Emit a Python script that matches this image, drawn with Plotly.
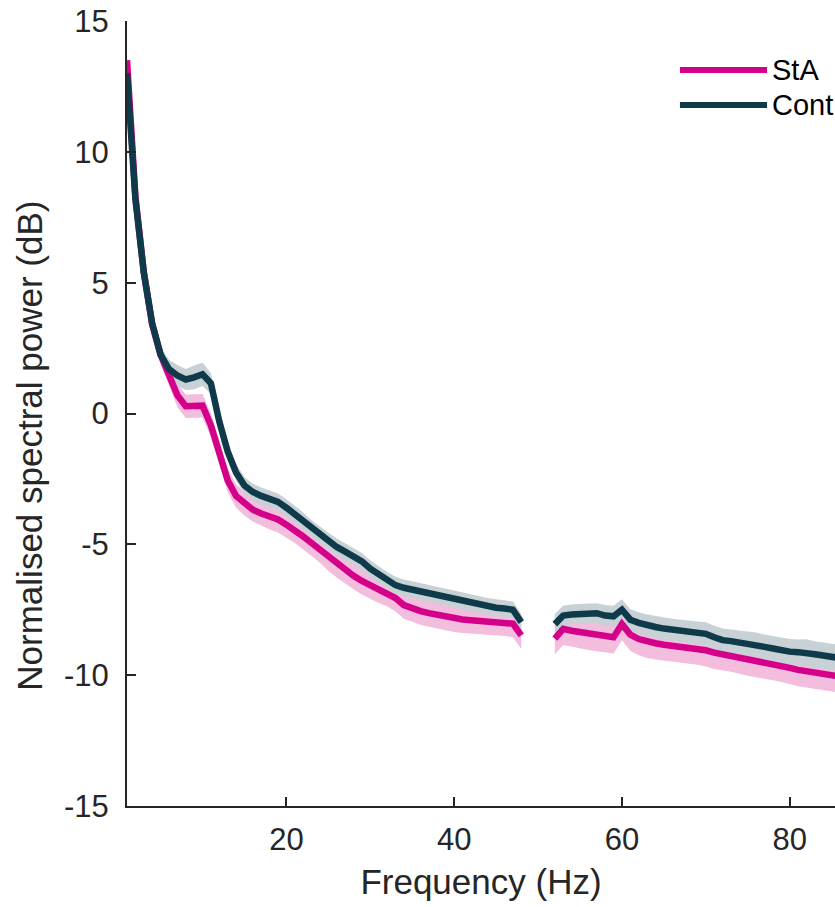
import plotly.graph_objects as go

# Frequency bins (Hz); the 49-51 Hz notch band is left out
freq_low = list(range(1, 49))
freq_high = list(range(52, 87))

# Group mean spectra (dB)
sta_low = [13.5, 8.3, 5.4, 3.4, 2.25, 1.45, 0.7, 0.28, 0.28, 0.3,
           -0.45, -1.5, -2.55, -3.15, -3.45, -3.68, -3.82, -3.95, -4.05, -4.25,
           -4.45, -4.7, -4.95, -5.2, -5.5, -5.75, -5.98, -6.2, -6.4, -6.57,
           -6.72, -6.85, -7.05, -7.32, -7.45, -7.55, -7.63, -7.7, -7.77, -7.83,
           -7.87, -7.9, -7.92, -7.94, -7.96, -7.98, -8.03, -8.48]
cont_low = [13.0, 8.2, 5.4, 3.45, 2.25, 1.7, 1.45, 1.3, 1.38, 1.5,
            1.15, -0.3, -1.45, -2.25, -2.75, -3.0, -3.15, -3.28, -3.38, -3.6,
            -3.85, -4.1, -4.4, -4.65, -4.88, -5.1, -5.28, -5.45, -5.65, -5.93,
            -6.15, -6.38, -6.56, -6.66, -6.73, -6.8, -6.88, -6.96, -7.03, -7.1,
            -7.16, -7.23, -7.3, -7.37, -7.42, -7.45, -7.5, -7.97]
sta_high = [-8.6, -8.23, -8.3, -8.36, -8.42, -8.47, -8.52, -8.55, -8.05, -8.45,
            -8.62, -8.72, -8.78, -8.84, -8.87, -8.9, -8.94, -8.98, -9.05, -9.14,
            -9.2, -9.25, -9.33, -9.4, -9.47, -9.52, -9.57, -9.64, -9.72, -9.8,
            -9.85, -9.9, -9.95, -10.0, -10.05]
cont_high = [-8.05, -7.72, -7.68, -7.65, -7.64, -7.63, -7.72, -7.75, -7.5, -7.88,
             -8.0, -8.1, -8.16, -8.22, -8.26, -8.3, -8.34, -8.38, -8.42, -8.55,
             -8.66, -8.7, -8.74, -8.78, -8.83, -8.92, -8.98, -9.05, -9.1, -9.12,
             -9.13, -9.2, -9.25, -9.3, -9.35]

# Standard error of the mean (dB)
sta_sem_low = [0.2, 0.2, 0.2, 0.25, 0.35, 0.4, 0.45, 0.45, 0.45, 0.45,
               0.45, 0.45, 0.45, 0.45, 0.45, 0.45, 0.45, 0.48, 0.5, 0.5,
               0.5, 0.5, 0.5, 0.5, 0.52, 0.52, 0.52, 0.52, 0.52, 0.52,
               0.52, 0.52, 0.52, 0.52, 0.52, 0.52, 0.52, 0.52, 0.52, 0.52,
               0.52, 0.52, 0.52, 0.52, 0.52, 0.52, 0.52, 0.52]
cont_sem_low = [0.2, 0.2, 0.2, 0.2, 0.3, 0.35, 0.4, 0.4, 0.45, 0.45,
                0.4, 0.35, 0.32, 0.32, 0.32, 0.32, 0.32, 0.32, 0.32, 0.32,
                0.32, 0.32, 0.32, 0.32, 0.32, 0.32, 0.32, 0.32, 0.32, 0.32,
                0.32, 0.32, 0.32, 0.32, 0.32, 0.32, 0.32, 0.32, 0.32, 0.32,
                0.32, 0.32, 0.32, 0.32, 0.32, 0.32, 0.32, 0.32]
sta_sem_high = [0.6, 0.62, 0.62, 0.62, 0.62, 0.62, 0.62, 0.62, 0.62, 0.62,
                0.62, 0.62, 0.62, 0.62, 0.62, 0.62, 0.62, 0.62, 0.62, 0.62,
                0.62, 0.62, 0.62, 0.62, 0.62, 0.62, 0.62, 0.62, 0.62, 0.62,
                0.62, 0.62, 0.62, 0.62, 0.62]
cont_sem_high = [0.38, 0.38, 0.38, 0.38, 0.38, 0.38, 0.4, 0.4, 0.4, 0.4,
                 0.4, 0.42, 0.42, 0.42, 0.42, 0.42, 0.42, 0.44, 0.44, 0.44,
                 0.44, 0.45, 0.45, 0.46, 0.46, 0.47, 0.47, 0.48, 0.48, 0.48,
                 0.5, 0.5, 0.5, 0.5, 0.5]

y_ticks = [-15, -10, -5, 0, 5, 10, 15]
y_tick_text = ["-15", "-10", "-5", "0", "5", "10", "15"]
x_ticks = [20, 40, 60, 80]

STA_COLOR = "#D5008A"
CONT_COLOR = "#0E3A4A"
STA_BAND = "#F3BEDE"
CONT_BAND = "#C7D1D6"
AXIS_COLOR = "#262626"
FONT = "Liberation Sans, Arial, Helvetica, sans-serif"

groups = [
    ("StA", STA_COLOR, STA_BAND,
     [(freq_low, sta_low, sta_sem_low), (freq_high, sta_high, sta_sem_high)]),
    ("Cont", CONT_COLOR, CONT_BAND,
     [(freq_low, cont_low, cont_sem_low), (freq_high, cont_high, cont_sem_high)]),
]

fig = go.Figure()

# Shaded SEM bands first, so both mean lines sit on top
for name, _, band, segments in groups:
    for f, m, s in segments:
        upper = [a + b for a, b in zip(m, s)]
        lower = [a - b for a, b in zip(m, s)]
        fig.add_trace(go.Scatter(
            x=f + f[::-1], y=upper + lower[::-1],
            fill="toself", fillcolor=band, line=dict(width=0),
            mode="lines", hoverinfo="skip", showlegend=False,
        ))

for name, color, _, segments in groups:
    for f, m, _ in segments:
        fig.add_trace(go.Scatter(
            x=f, y=m, mode="lines", name=name,
            line=dict(color=color, width=6.5),
            showlegend=False,
        ))

# Legend drawn as line samples with labels in the upper-right corner
legend_rows = [("StA", STA_COLOR, 0.9376), ("Cont", CONT_COLOR, 0.8930)]
for label, color, yp in legend_rows:
    fig.add_shape(type="line", xref="paper", yref="paper",
                  x0=0.781, x1=0.904, y0=yp, y1=yp,
                  line=dict(color=color, width=6))
    fig.add_annotation(xref="paper", yref="paper", x=0.908, y=yp,
                       text=label, showarrow=False, xanchor="left",
                       yanchor="middle",
                       font=dict(family=FONT, size=29, color="#000000"))

# Y-axis label, set slightly below the axis midpoint
fig.add_annotation(xref="paper", yref="paper", x=-0.137, y=0.459,
                   text="Normalised spectral power (dB)", textangle=-90,
                   showarrow=False, xanchor="center", yanchor="middle",
                   font=dict(family=FONT, size=35, color=AXIS_COLOR))

fig.update_layout(
    width=835, height=907,
    margin=dict(l=127, r=0, t=21, b=101),
    plot_bgcolor="white", paper_bgcolor="white",
    font=dict(family=FONT, color=AXIS_COLOR),
    showlegend=False,
    xaxis=dict(
        range=[1, 85.4], tickvals=x_ticks,
        ticks="inside", ticklen=9, tickwidth=1.5, tickcolor=AXIS_COLOR,
        showline=True, linecolor=AXIS_COLOR, linewidth=2,
        showgrid=False, zeroline=False,
        tickfont=dict(size=31, color=AXIS_COLOR), ticklabelstandoff=5,
        title=dict(text="Frequency (Hz)", font=dict(size=35, color=AXIS_COLOR),
                   standoff=13),
    ),
    yaxis=dict(
        range=[-15, 15], tickvals=y_ticks, ticktext=y_tick_text,
        ticks="inside", ticklen=9, tickwidth=1.5, tickcolor=AXIS_COLOR,
        showline=True, linecolor=AXIS_COLOR, linewidth=2,
        showgrid=False, zeroline=False,
        tickfont=dict(size=31, color=AXIS_COLOR), ticklabelstandoff=10,
    ),
)

fig.write_html("out.html")
